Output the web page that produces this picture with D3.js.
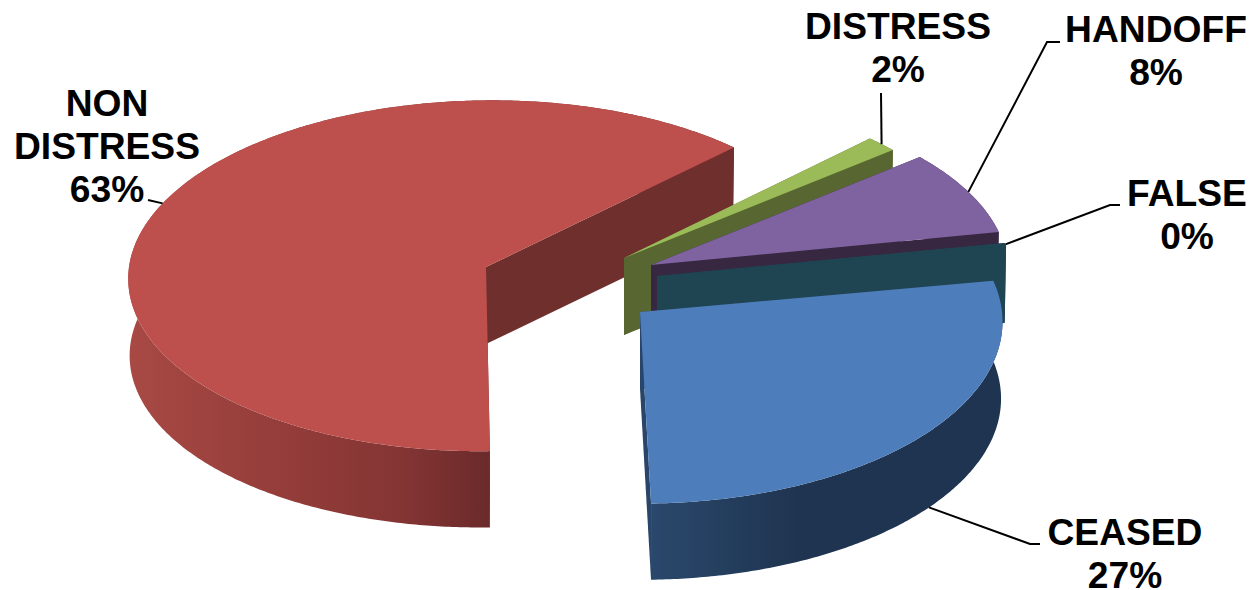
<!DOCTYPE html>
<html>
<head>
<meta charset="utf-8">
<script src="https://cdn.jsdelivr.net/npm/d3@7/dist/d3.min.js"></script>
<style>
html,body{margin:0;padding:0;background:#fff;overflow:hidden}
text{font-family:"Liberation Sans",Arial,sans-serif;font-weight:700;fill:#000}
</style>
</head>
<body>
<svg id="c" width="1251" height="590"></svg>
<script>
// Data, clockwise from the pie's first angle
const categories = ["CEASED", "NON DISTRESS", "DISTRESS", "HANDOFF", "FALSE"];
const shares = [27.36, 62.92, 1.53, 7.92, 0.28];

// Layout and style, per category
const labelLines = [["CEASED"], ["NON", "DISTRESS"], ["DISTRESS"], ["HANDOFF"], ["FALSE"]];
const apexes = [[640, 312], [486, 267], [624, 258], [651, 265], [657, 276]];
const radiusX = [362, 357, 357, 357, 357];
const radiusY = [182, 175, 175, 175, 175];
const leans = [-1, 6, 3, 3, 3];
const topFill = ["#4d7ebb", "#bd504d", "#9bbb59", "#7f62a0", "#1f4552"];
const wallFill = ["#29466a", "#6f2f2d", "#586731", "#372741", "#1f4552"];
const labelX = [1125, 107, 898, 1156, 1187];
const labelY = [545, 116, 39, 42, 206];
const leaderPaths = [[[1030, 544], [1040, 544]], [[148, 200]], [[881, 93]], [[1047, 42], [1060, 42]], [[1110, 205], [1120, 205]]];
const leaderDepth = [1, 0, 0, 0, 0];
const paintOrder = [1, 2, 3, 4, 0];

const startDeg = 80, lineGap = 43, fontPx = 37.2, depth = 77, persp = 0.05, shrink = 0.004;
const unit = d3.scaleLinear().domain([-1, 1]).range([-1, 1]);
const depthY = d3.scaleLinear().domain([0, 1]).range([0, depth]);

const svg = d3.select("#c");
const defs = svg.append("defs");
function grad(id, x1, x2, stops) {
  const g = defs.append("linearGradient").attr("id", id).attr("gradientUnits", "userSpaceOnUse")
    .attr("x1", x1).attr("x2", x2).attr("y1", 0).attr("y2", 0);
  stops.forEach(s => g.append("stop").attr("offset", s[0]).attr("stop-color", s[1]));
}
grad("outer0", 651, 1002, [[0, "#2a486c"], [0.42, "#1f3450"], [1, "#1f3450"]]);
grad("outer1", 128, 490, [[0, "#a84944"], [0.45, "#933c39"], [0.75, "#843534"], [1, "#6b2a2a"]]);

const arcs = d3.pie().sort(null).startAngle(startDeg * Math.PI / 180)
  .endAngle((startDeg + 360) * Math.PI / 180).value(d => d)(shares);

const lineGen = d3.line();
function proj(i, r, th, h) {
  const u = r * Math.sin(th), v = r * Math.cos(th);
  const s = (1 - shrink * h) / (1 + persp * v);
  return [apexes[i][0] + radiusX[i] * unit(u) * s + leans[i] * v,
          apexes[i][1] - radiusY[i] * unit(v) * s + depthY(h)];
}
function arcPts(i, a, b, h) {
  const n = Math.max(2, Math.ceil(Math.abs(b - a) / 0.01));
  return d3.range(n + 1).map(k => proj(i, 1, a + (b - a) * k / n, h));
}
function close(p) { return lineGen(p) + "Z"; }

paintOrder.forEach(i => {
  const d = arcs[i], a = d.startAngle, b = d.endAngle;
  const g = svg.append("g").attr("class", "slice");
  const outer = arcPts(i, a, b, 0).concat(arcPts(i, a, b, 1).reverse());
  g.append("path").attr("d", close(outer))
    .attr("fill", i === 0 ? "url(#outer0)" : i === 1 ? "url(#outer1)" : wallFill[i]);
  [a, b].forEach(t => {
    g.append("path").attr("d", close([proj(i, 0, t, 0), proj(i, 1, t, 0), proj(i, 1, t, 1), proj(i, 0, t, 1)]))
      .attr("fill", wallFill[i]);
  });
  g.append("path").attr("d", close([proj(i, 0, a, 0)].concat(arcPts(i, a, b, 0)))).attr("fill", topFill[i]);
});

arcs.forEach((d, i) => {
  const mid = (d.startAngle + d.endAngle) / 2;
  const pts = [proj(i, 1, mid, leaderDepth[i])].concat(leaderPaths[i]);
  svg.append("path").attr("d", lineGen(pts)).attr("fill", "none").attr("stroke", "#000").attr("stroke-width", 2);
  const lines = labelLines[i].concat([Math.round(shares[i]) + "%"]);
  lines.forEach((t, k) => {
    svg.append("text").attr("x", labelX[i]).attr("y", labelY[i] + k * lineGap)
      .attr("text-anchor", "middle").attr("font-size", fontPx).text(t);
  });
});
</script>
</body>
</html>
